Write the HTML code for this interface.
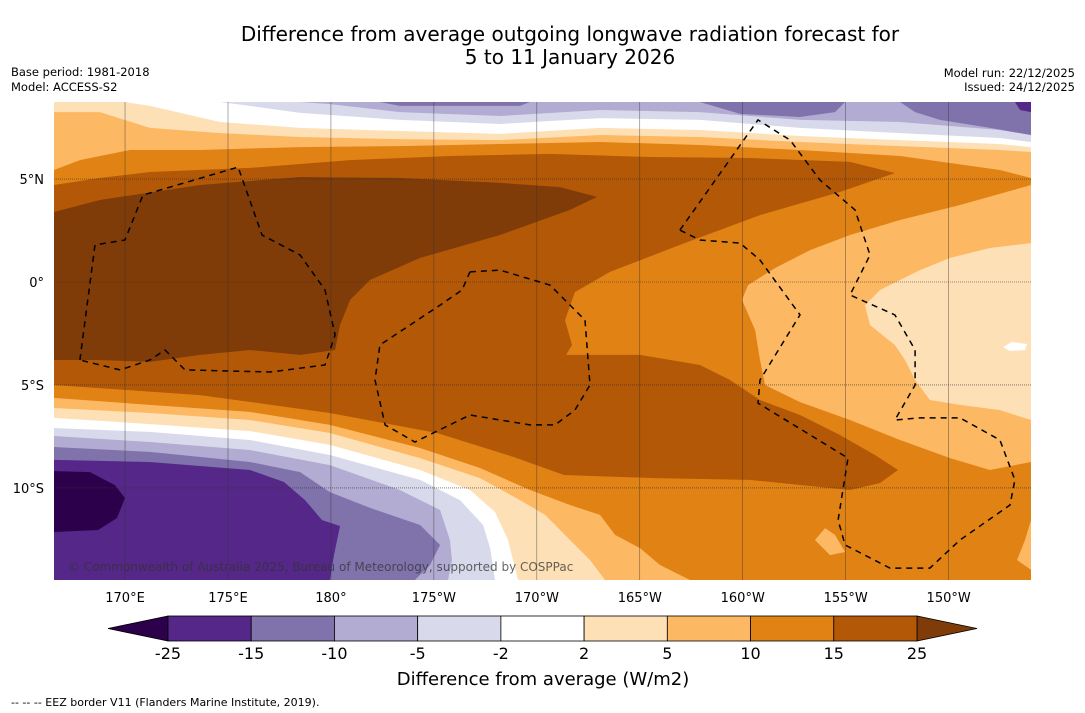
<!DOCTYPE html>
<html><head><meta charset="utf-8">
<style>
body{margin:0;background:#fff;width:1085px;height:713px;overflow:hidden;font-family:"DejaVu Sans","Liberation Sans",sans-serif;}
svg{position:absolute;left:0;top:0;font-family:"DejaVu Sans","Liberation Sans",sans-serif;}
</style></head>
<body>
<svg id="chart" width="1085" height="713" xmlns="http://www.w3.org/2000/svg">
<text x="570" y="41" text-anchor="middle" font-size="20" fill="#000">Difference from average outgoing longwave radiation forecast for</text>
<text x="570" y="64" text-anchor="middle" font-size="20" fill="#000">5 to 11 January 2026</text>
<text x="11" y="76" font-size="11.5">Base period: 1981-2018</text>
<text x="11" y="91" font-size="11.5">Model: ACCESS-S2</text>
<text x="1075" y="77" font-size="11.5" text-anchor="end">Model run: 22/12/2025</text>
<text x="1075" y="91" font-size="11.5" text-anchor="end">Issued: 24/12/2025</text>
<defs><clipPath id="mapclip"><rect x="54" y="102" width="977" height="478"/></clipPath></defs>
<g id="map" clip-path="url(#mapclip)"></g>
<g id="grid"></g>
<g id="eez" clip-path="url(#mapclip)"></g>
<text x="68" y="571" font-size="12" fill="#333" fill-opacity="0.75">© Commonwealth of Australia 2025, Bureau of Meteorology, supported by COSPPac</text>
<g id="axes"></g>
<g id="cbar"></g>
<text x="543" y="685" text-anchor="middle" font-size="18">Difference from average (W/m2)</text>
<text x="11" y="706" font-size="11">--  --  -- EEZ border V11 (Flanders Marine Institute, 2019).</text>
</svg>
<script>
// ---- data ----
const levels = [-25,-15,-10,-5,-2,2,5,10,15,25];
const levelLabels = ["-25","-15","-10","-5","-2","2","5","10","15","25"];
const bandColors = ["#542788","#8073ac","#b2abd2","#d8daeb","#ffffff","#fee0b6","#fdb863","#e08214","#b35806"];
const underColor = "#2d004b";
const overColor = "#7f3b08";
const lonTicks = [170,175,180,185,190,195,200,205,210];
const lonTickLabels = ["170°E","175°E","180°","175°W","170°W","165°W","160°W","155°W","150°W"];
const latTicks = [5,0,-5,-10];
const latTickLabels = ["5°N","0°","5°S","10°S"];
const lonMin = 166.55, lonMax = 214.0, latMin = -14.47, latMax = 8.74;

// axis functions
const X0=54, X1=1031, Y0=102, Y1=580;
function xOf(lon){return X0+(lon-lonMin)/(lonMax-lonMin)*(X1-X0);}
function yOf(lat){return Y1-(lat-latMin)/(latMax-latMin)*(Y1-Y0);}
function lonOfPx(x){return lonMin+(x-X0)/(X1-X0)*(lonMax-lonMin);}
function latOfPx(y){return latMin+(Y1-y)/(Y1-Y0)*(latMax-latMin);}
function geo(pts){return pts.map(p=>[+lonOfPx(p[0]).toFixed(2),+latOfPx(p[1]).toFixed(2)]);}

const contourBands = [
 {c:"#b35806", pts:geo([[54,185],[100,178],[150,172],[250,168],[350,160],[450,156],[550,154],[650,157],[750,158],[850,162],[895,173],[840,192],[760,215],[680,245],[610,272],[575,292],[565,320],[572,345],[566,355],[640,355],[700,365],[730,380],[760,400],[800,415],[840,435],[875,455],[898,470],[880,483],[850,490],[750,480],[655,478],[564,475],[514,457],[437,433],[330,413],[200,395],[54,385]])},
 {c:"#7f3b08", pts:geo([[54,212],[100,200],[200,185],[300,177],[400,178],[500,183],[560,187],[597,197],[570,210],[500,235],[420,258],[370,280],[350,300],[340,325],[335,350],[300,355],[250,350],[200,355],[150,362],[100,360],[54,360]])},
 {c:"#fdb863", pts:geo([[54,102],[1031,102],[1031,178],[1000,170],[900,156],[800,150],[700,145],[600,142],[500,144],[400,146],[300,147],[200,150],[130,150],[80,160],[54,170]])},
 {c:"#fee0b6", pts:geo([[54,102],[1031,102],[1031,152],[1000,150],[900,146],[800,142],[700,137],[600,135],[500,140],[400,139],[300,137],[220,133],[150,128],[100,112],[54,112]])},
 {c:"#ffffff", pts:geo([[125,102],[1031,102],[1031,147],[1000,144],[900,140],[800,136],[700,130],[600,128],[500,134],[400,131],[300,128],[220,122],[150,106]])},
 {c:"#d8daeb", pts:geo([[220,102],[1031,102],[1031,142],[1000,138],[900,133],[800,128],[700,120],[600,118],[500,124],[400,120],[300,113],[250,106]])},
 {c:"#b2abd2", pts:geo([[300,102],[1031,102],[1031,135],[1000,130],[900,122],[800,120],[700,112],[600,110],[500,116],[400,112],[330,104]])},
 {c:"#8073ac", pts:geo([[380,102],[530,102],[520,106],[400,106]])},
 {c:"#8073ac", pts:geo([[700,102],[845,102],[835,112],[800,117],[740,114]])},
 {c:"#8073ac", pts:geo([[900,102],[1031,102],[1031,135],[990,128],[940,120],[915,112]])},
 {c:"#542788", pts:geo([[1015,102],[1031,102],[1031,112],[1020,110]])},
 {c:"#fdb863", pts:geo([[1031,185],[960,205],[900,220],[850,235],[810,250],[775,268],[748,285],[742,300],[755,330],[760,360],[765,385],[800,402],[850,420],[900,440],[950,458],[990,470],[1031,462]])},
 {c:"#fee0b6", pts:geo([[1031,243],[990,248],[950,258],[920,270],[880,290],[865,305],[870,325],[895,345],[905,360],[915,380],[930,400],[960,405],[1000,410],[1031,420]])},
 {c:"#ffffff", pts:geo([[1003,347],[1012,342],[1027,344],[1025,350],[1010,351]])},
 {c:"#fdb863", pts:geo([[815,540],[825,528],[835,535],[845,552],[830,555]])},
 {c:"#fdb863", pts:geo([[1031,520],[1025,540],[1017,560],[1031,570]])},
 {c:"#fdb863", pts:geo([[54,398],[150,405],[250,412],[330,425],[420,448],[480,468],[530,490],[570,505],[600,515],[615,535],[640,548],[660,565],[690,580],[54,580]])},
 {c:"#fee0b6", pts:geo([[54,408],[150,413],[250,420],[330,433],[420,458],[480,478],[520,500],[545,515],[570,540],[590,560],[605,580],[54,580]])},
 {c:"#ffffff", pts:geo([[54,418],[150,424],[250,431],[330,445],[420,470],[470,490],[495,512],[508,540],[518,580],[54,580]])},
 {c:"#d8daeb", pts:geo([[54,428],[150,432],[250,440],[330,455],[420,480],[460,500],[483,525],[490,548],[495,580],[54,580]])},
 {c:"#b2abd2", pts:geo([[54,436],[150,442],[250,450],[330,465],[400,490],[440,510],[450,540],[452,560],[448,580],[54,580]])},
 {c:"#8073ac", pts:geo([[54,447],[150,452],[250,462],[300,472],[330,492],[370,508],[420,525],[440,545],[430,565],[415,580],[54,580]])},
 {c:"#542788", pts:geo([[54,460],[150,462],[250,470],[284,482],[305,500],[322,520],[340,526],[334,555],[330,580],[54,580]])},
 {c:"#2d004b", pts:geo([[54,471],[90,472],[115,485],[125,498],[117,518],[98,530],[54,532]])}
];
const eezLines = [
 geo([[80,360],[95,245],[125,240],[143,195],[238,167],[262,235],[300,255],[325,290],[335,335],[325,365],[270,372],[185,370],[165,350],[150,360],[120,370],[80,360]]),
 geo([[470,272],[500,270],[550,285],[585,320],[590,385],[575,410],[555,425],[530,425],[470,415],[415,442],[385,425],[375,380],[380,345],[440,305],[462,290],[470,272]]),
 geo([[680,230],[758,120],[790,140],[820,180],[855,210],[870,255],[850,295],[895,315],[915,350],[915,385],[895,420],[920,418],[960,418],[1000,440],[1015,480],[1010,505],[960,540],[930,568],[890,568],[845,545],[838,520],[848,458],[758,403],[760,380],[800,315],[760,260],[740,243],[700,240],[680,230]])
];

const NS="http://www.w3.org/2000/svg";
function mk(tag,attrs,parent){const e=document.createElementNS(NS,tag);for(const k in attrs)e.setAttribute(k,attrs[k]);parent.appendChild(e);return e;}
const map=document.getElementById('map');
const bg=mk('rect',{x:X0,y:Y0,width:X1-X0,height:Y1-Y0,fill:"#e08214"},map);


contourBands.forEach((b,i)=>{
  const p=mk('polygon',{points:b.pts.map(q=>xOf(q[0]).toFixed(1)+','+yOf(q[1]).toFixed(1)).join(' '),fill:b.c},map);
  
  
});
const eez=document.getElementById('eez');
eezLines.forEach((l,i)=>{
  const p=mk('polyline',{points:l.map(q=>xOf(q[0]).toFixed(1)+','+yOf(q[1]).toFixed(1)).join(' '),fill:"none",stroke:"#000","stroke-width":1.5,"stroke-dasharray":"6,5"},eez);
  
  
});
const grid=document.getElementById('grid');
const axes=document.getElementById('axes');
lonTicks.forEach((lon,i)=>{
  const x=xOf(lon);
  const g=mk('line',{x1:x,x2:x,y1:Y0,y2:Y1,stroke:"#333","stroke-width":0.5,"stroke-opacity":0.8},grid);
  
  
  const t=mk('text',{x:x,y:602,"text-anchor":"middle","font-size":13},axes);
  t.textContent=lonTickLabels[i];
  
  
});
latTicks.forEach((lat,i)=>{
  const y=yOf(lat);
  const g=mk('line',{x1:X0,x2:X1,y1:y,y2:y,stroke:"#333","stroke-width":0.6,"stroke-dasharray":"1,1"},grid);
  
  
  const t=mk('text',{x:44,y:y+5,"text-anchor":"end","font-size":13},axes);
  t.textContent=latTickLabels[i];
  
  
});
const cb=document.getElementById('cbar');
const cbX0=168,cbX1=917,cbY0=616,cbY1=641;
function cbx(i){return cbX0+i*(cbX1-cbX0)/(levels.length-1);}
const tl=mk('polygon',{points:`108,${(cbY0+cbY1)/2} ${cbX0},${cbY0} ${cbX0},${cbY1}`,fill:underColor,stroke:"#000","stroke-width":0.8},cb);


const tr=mk('polygon',{points:`977,${(cbY0+cbY1)/2} ${cbX1},${cbY0} ${cbX1},${cbY1}`,fill:overColor,stroke:"#000","stroke-width":0.8},cb);


bandColors.forEach((c,i)=>{
  const r=mk('rect',{x:cbx(i),y:cbY0,width:cbx(i+1)-cbx(i),height:cbY1-cbY0,fill:c,stroke:"#000","stroke-width":0.8},cb);
  
  
});
levelLabels.forEach((s,i)=>{
  const t=mk('text',{x:cbx(i),y:659,"text-anchor":"middle","font-size":16},cb);
  t.textContent=s;
  
  
});
</script>
</body></html>
